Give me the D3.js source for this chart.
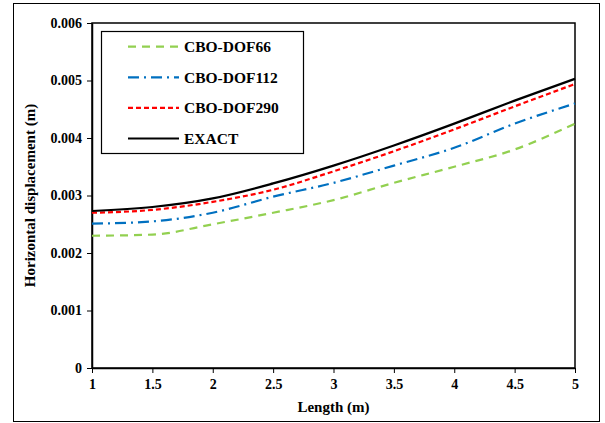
<!DOCTYPE html>
<html>
<head>
<meta charset="utf-8">
<script src="https://cdn.jsdelivr.net/npm/d3@7"></script>
<style>
body { margin: 0; background: #fff; }
text { font-family: "Liberation Serif", "Times New Roman", serif; font-weight: bold; }
</style>
</head>
<body>
<svg id="chart" width="605" height="423"></svg>
<script>
// data
var lengths = [1, 1.5, 2, 2.5, 3, 3.5, 4, 4.5, 5];
var dof66  = [0.00230, 0.00232, 0.00250, 0.00270, 0.00292, 0.00322, 0.00350, 0.00380, 0.00425];
var dof112 = [0.00251, 0.00255, 0.00270, 0.00298, 0.00322, 0.00352, 0.00383, 0.00425, 0.00460];
var dof290 = [0.00270, 0.00275, 0.00289, 0.00310, 0.00342, 0.00377, 0.00415, 0.00455, 0.00494];
var exact  = [0.00273, 0.00280, 0.00295, 0.00321, 0.00352, 0.00387, 0.00425, 0.00465, 0.00503];
var xTicks = [1, 1.5, 2, 2.5, 3, 3.5, 4, 4.5, 5];
var yTicks = [0, 0.001, 0.002, 0.003, 0.004, 0.005, 0.006];

var series = [
  {name: "CBO-DOF66", values: dof66, color: "#92d050", dash: "8,6"},
  {name: "CBO-DOF112", values: dof112, color: "#0070c0", dash: "11,5,2,5"},
  {name: "CBO-DOF290", values: dof290, color: "#ff0000", dash: "5,3"},
  {name: "EXACT", values: exact, color: "#000000", dash: null}
];

var svg = d3.select("#chart");

// outer frame
svg.append("rect")
  .attr("x", 13.5).attr("y", 3.5)
  .attr("width", 586).attr("height", 418)
  .attr("fill", "none").attr("stroke", "#000").attr("stroke-width", 1);

var pLeft = 92, pRight = 575, pTop = 23, pBottom = 368;

var x_scale = d3.scaleLinear().domain([1, 5]).range([pLeft, pRight]);
var y_scale = d3.scaleLinear().domain([0, 0.006]).range([pBottom, pTop]);

// plot frame
svg.append("rect")
  .attr("x", pLeft).attr("y", pTop)
  .attr("width", pRight - pLeft).attr("height", pBottom - pTop)
  .attr("fill", "none").attr("stroke", "#000").attr("stroke-width", 1.5);

var xAxis = svg.append("g")
  .attr("transform", "translate(0," + pBottom + ")")
  .call(d3.axisBottom(x_scale).tickValues(xTicks).tickSize(5).tickSizeOuter(0)
    .tickFormat(function(d) { return d3.format("")(d); }));

var yAxis = svg.append("g")
  .attr("transform", "translate(" + pLeft + ",0)")
  .call(d3.axisLeft(y_scale).tickValues(yTicks).tickSize(5).tickSizeOuter(0)
    .tickFormat(function(d) { return d === 0 ? "0" : d3.format(".3f")(d); }));

[xAxis, yAxis].forEach(function(a) {
  a.attr("font-family", "Liberation Serif").attr("font-size", 14).attr("font-weight", "bold");
  a.select(".domain").attr("stroke", "#000").attr("stroke-width", 1.5);
  a.selectAll(".tick line").attr("stroke", "#000");
  a.selectAll(".tick text").attr("fill", "#000");
});
xAxis.selectAll(".tick text").attr("y", 11).attr("dy", "0.71em");
yAxis.selectAll(".tick text").attr("x", -10);

svg.append("text")
  .attr("x", (pLeft + pRight) / 2).attr("y", 412)
  .attr("text-anchor", "middle")
  .style("font-size", "15px")
  .text("Length (m)");

svg.append("text")
  .attr("transform", "translate(35," + (pTop + pBottom) / 2 + ") rotate(-90)")
  .attr("text-anchor", "middle")
  .style("font-size", "15px")
  .text("Horizontal displacement (m)");

var line = d3.line()
  .x(function(d, i) { return x_scale(lengths[i]); })
  .y(function(d) { return y_scale(d); })
  .curve(d3.curveMonotoneX);

svg.selectAll("path.series")
  .data(series)
  .enter()
  .append("path")
  .attr("class", "series")
  .attr("d", function(d) { return line(d.values); })
  .attr("fill", "none")
  .attr("stroke", function(d) { return d.color; })
  .attr("stroke-width", 2.2)
  .attr("stroke-dasharray", function(d) { return d.dash; });

// legend
var legend = svg.append("g");
legend.append("rect")
  .attr("x", 101.5).attr("y", 31.5)
  .attr("width", 202).attr("height", 122)
  .attr("fill", "#fff").attr("stroke", "#000").attr("stroke-width", 1.2);

var items = legend.selectAll("g.item")
  .data(series)
  .enter()
  .append("g")
  .attr("class", "item")
  .attr("transform", function(d, i) { return "translate(0," + (46.7 + i * 30.6) + ")"; });

items.append("line")
  .attr("x1", 128).attr("x2", 179)
  .attr("y1", 0).attr("y2", 0)
  .attr("stroke", function(d) { return d.color; })
  .attr("stroke-width", 2.2)
  .attr("stroke-dasharray", function(d) { return d.dash; });

items.append("text")
  .attr("x", 184).attr("y", 0)
  .attr("dy", "0.35em")
  .style("font-size", "15.5px")
  .text(function(d) { return d.name; });
</script>
</body>
</html>
